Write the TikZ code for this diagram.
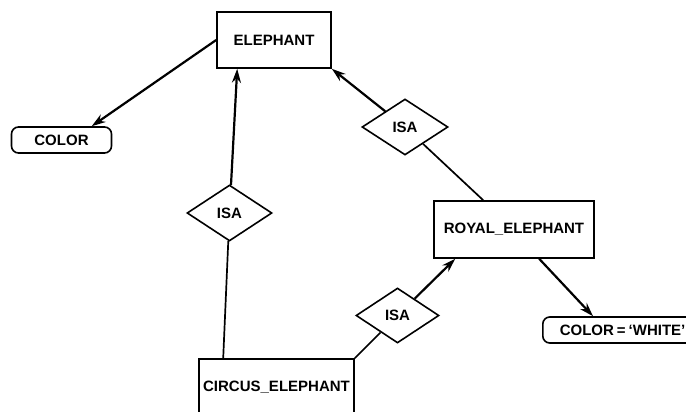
\documentclass[tikz,border=0pt]{standalone}
\usepackage{fontspec}
\setmainfont{Liberation Sans}
\usetikzlibrary{shapes.geometric,arrows.meta,calc}

\tikzset{
  label font/.style={font=\fontsize{15}{17}\selectfont\bfseries},
  entity/.style={draw, line width=1.6pt, rectangle, inner sep=0pt, label font},
  slot/.style={draw, line width=1.6pt, rectangle, rounded corners=7pt, inner sep=0pt, label font},
  isa/.style={draw, line width=1.6pt, diamond, inner sep=0pt, label font},
  link/.style={line width=1.7pt},
  arc/.style={line width=2.2pt, -{Stealth[length=14pt,width=9pt]}},
}

\begin{document}
\begin{tikzpicture}[x=1pt, y=-1pt]
\useasboundingbox (0,0) rectangle (686,412);
\clip (0,0) rectangle (686,412);

% frames
\node[entity, minimum width=114pt, minimum height=56pt] (elephant) at (274,40) {ELEPHANT};
\node[entity, minimum width=160pt, minimum height=57pt] (royal) at (514,229.5) {ROYAL\_ELEPHANT};
\node[entity, minimum width=155pt, minimum height=57pt] (circus) at (276.5,387.5) {CIRCUS\_ELEPHANT};

% slots
\node[slot, minimum width=100pt, minimum height=26pt] (color) at (61.5,140) {COLOR};
\node[slot, anchor=west, minimum height=26pt, inner xsep=17pt] (white) at (542,330)
  {COLOR\hspace{3pt}=\hspace{3pt}`WHITE'};

% ISA links
\node[isa, minimum width=85pt, minimum height=56pt] (isaA) at (229.5,213) {ISA};
\node[isa, minimum width=86pt, minimum height=56pt] (isaB) at (405,127) {ISA};
\node[isa, minimum width=83pt, minimum height=55pt] (isaC) at (397.5,315.5) {ISA};

% connectors
\coordinate (circusTop) at ($(circus.north west)+(25,0)$);
\coordinate (elephantBot) at ($(elephant.south west)+(21,0)$);
\coordinate (royalTop) at ($(royal.north west)+(50,0)$);
\coordinate (royalBot) at ($(royal.south west)+(22,0)$);
\coordinate (royalBotR) at ($(royal.south west)+(106,0)$);
\coordinate (whiteTop) at ($(white.north west)+(51,0)$);
\coordinate (colorTop) at ($(color.north west)+(81,0)$);

\draw[arc] (elephant.west) -- (colorTop);
\draw[link] (circusTop) -- (isaA);
\draw[arc] (isaA) -- (elephantBot);
\draw[link] (royalTop) -- (isaB);
\draw[arc] (isaB) -- (elephant.south east);
\draw[link] (circus.north east) -- (isaC);
\draw[arc] (isaC) -- (royalBot);
\draw[arc] (royalBotR) -- (whiteTop);
\end{tikzpicture}
\end{document}
